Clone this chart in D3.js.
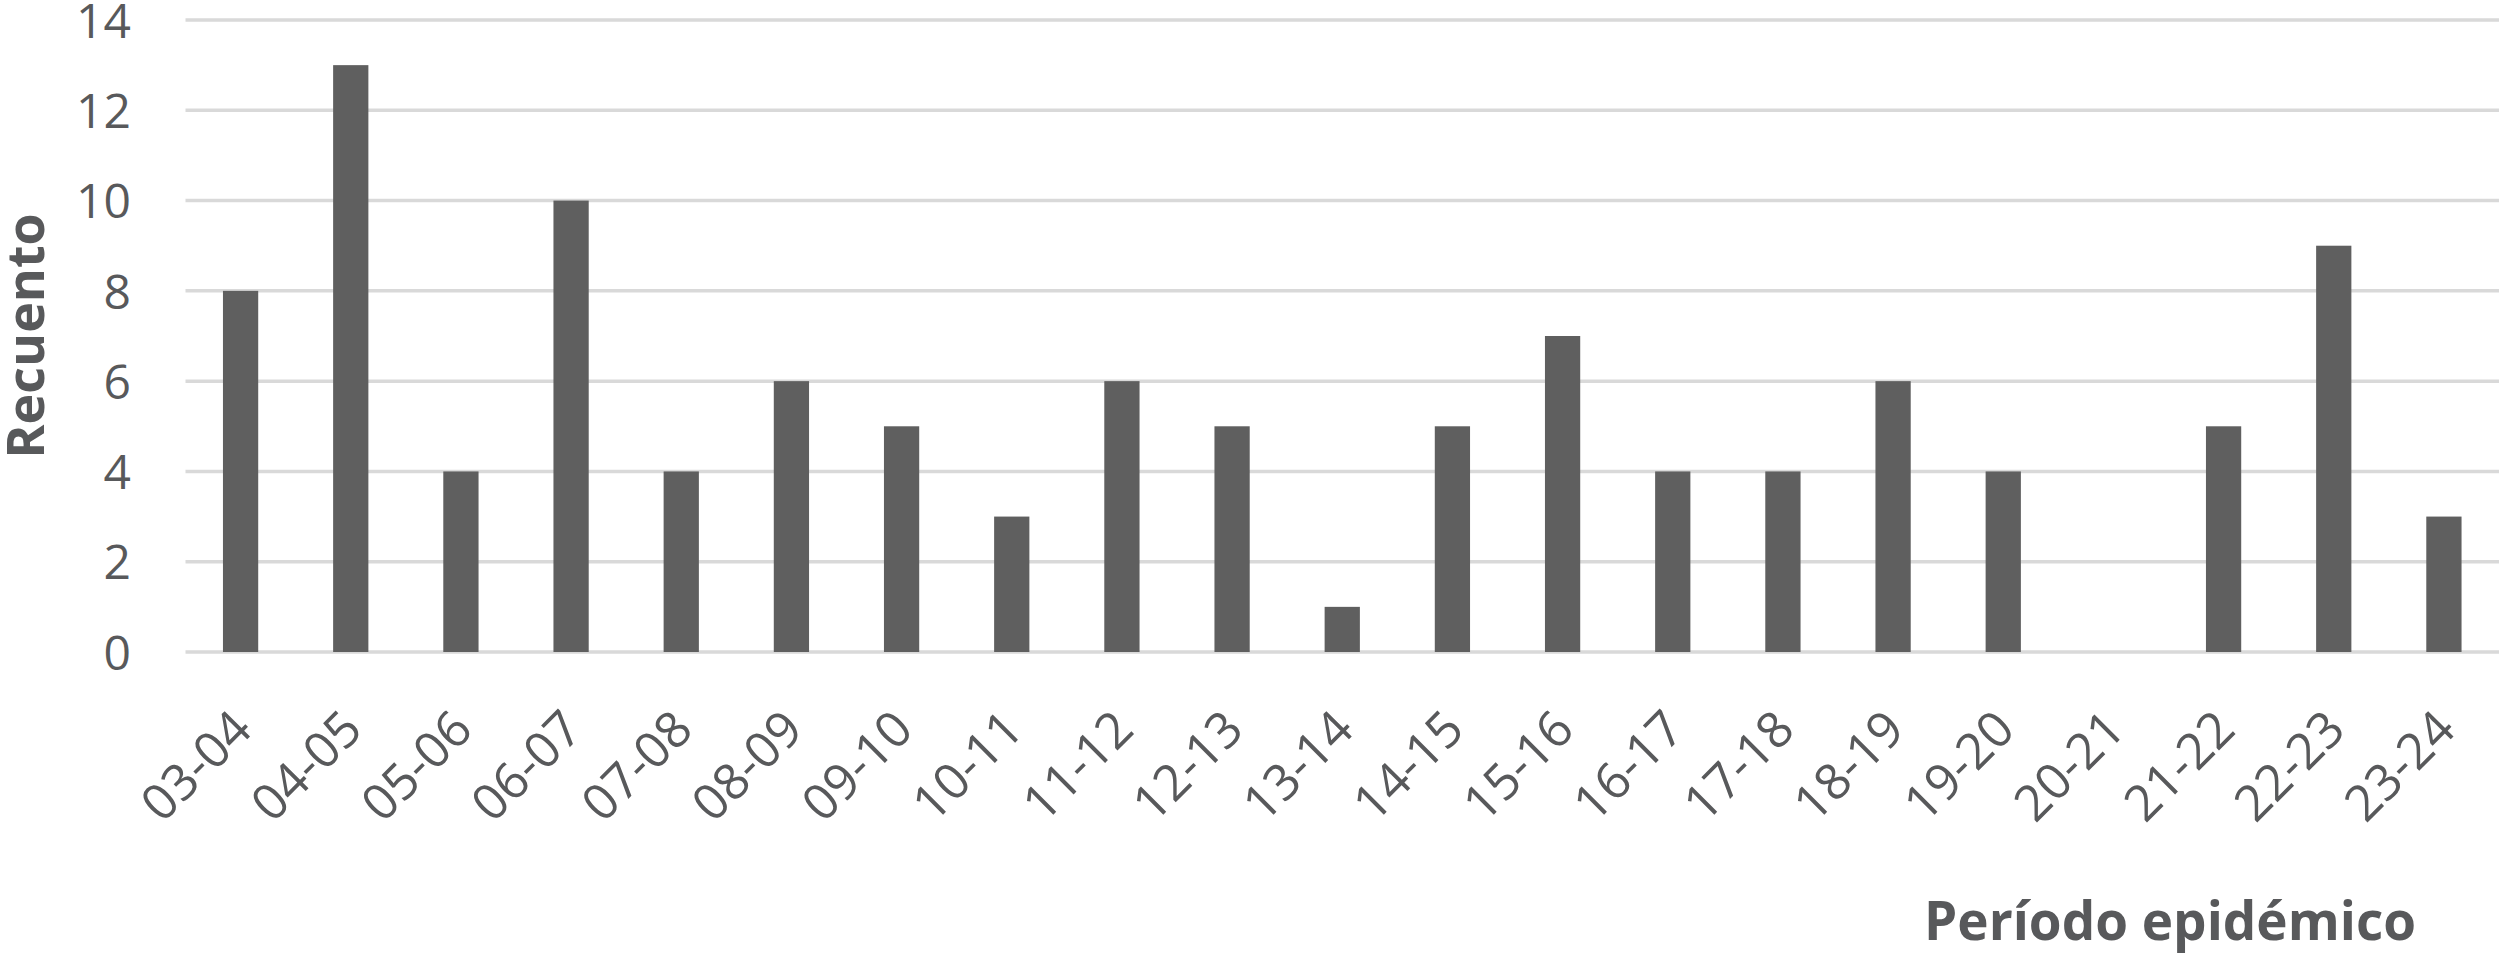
<!DOCTYPE html>
<html><head><meta charset="utf-8">
<script src="https://cdn.jsdelivr.net/npm/d3@7"></script>
<style>body{margin:0;background:#fff}svg{display:block}</style>
</head><body>
<script>
const categories = ["03-04","04-05","05-06","06-07","07-08","08-09","09-10","10-11","11-12","12-13","13-14","14-15","15-16","16-17","17-18","18-19","19-20","20-21","21-22","22-23","23-24"];
const values = [8,13,4,10,4,6,5,3,6,5,1,5,7,4,4,6,4,0,5,9,3];
const yTicks = [0,2,4,6,8,10,12,14];
const yTitle = "Recuento";
const xTitle = "Período epidémico";

(function () {
const W = 2500, H = 955;
const svg = d3.select("body").append("svg").attr("width", W).attr("height", H);
const mLeft = 185.5, mRight = 2499, mTop = 20, mBottom = 652;
const x = d3.scaleBand().domain(categories).range([mLeft, mRight]).paddingInner(0.68).paddingOuter(0.34);
const y = d3.scaleLinear().domain([0, 14]).range([mBottom, mTop]);
const textColor = "#58595b";
const font = "'Open Sans', sans-serif";

// gridlines
svg.append("g").selectAll("line").data(yTicks).join("line")
  .attr("x1", mLeft).attr("x2", mRight)
  .attr("y1", d => y(d)).attr("y2", d => y(d))
  .attr("stroke", "#d9d9d9").attr("stroke-width", 3.5);

// bars
svg.append("g").selectAll("rect").data(values).join("rect")
  .attr("x", (d, i) => x(categories[i]))
  .attr("width", x.bandwidth())
  .attr("y", d => y(d))
  .attr("height", d => y(0) - y(d))
  .attr("fill", "#5f5f5f");

// y axis labels
const yAxis = d3.axisLeft(y).tickValues(yTicks).tickSize(0).tickPadding(0);
const gy = svg.append("g").attr("transform", "translate(131,0)").call(yAxis);
gy.select(".domain").remove();
gy.selectAll("text").attr("font-family", font).attr("font-size", 48).attr("fill", textColor).attr("dy", "0.36em");

// x axis labels
const xAxis = d3.axisBottom(x).tickSize(0).tickPadding(0);
const gx = svg.append("g").attr("transform", `translate(0,${mBottom})`).call(xAxis);
gx.select(".domain").remove();
gx.selectAll("text")
  .attr("font-family", font).attr("font-size", 50).attr("fill", textColor)
  .attr("text-anchor", "end").attr("dy", 0).attr("y", 0)
  .attr("transform", "translate(14,80) rotate(-45)");

// axis titles
svg.append("text").attr("transform", "translate(44,336) rotate(-90)")
  .attr("text-anchor", "middle").attr("font-family", font).attr("font-weight", "bold")
  .attr("font-size", 52).attr("fill", textColor).text(yTitle);
svg.append("text").attr("x", 2170).attr("y", 940)
  .attr("text-anchor", "middle").attr("font-family", font).attr("font-weight", "bold")
  .attr("font-size", 53).attr("fill", textColor).text(xTitle);
})();
</script>
</body></html>
